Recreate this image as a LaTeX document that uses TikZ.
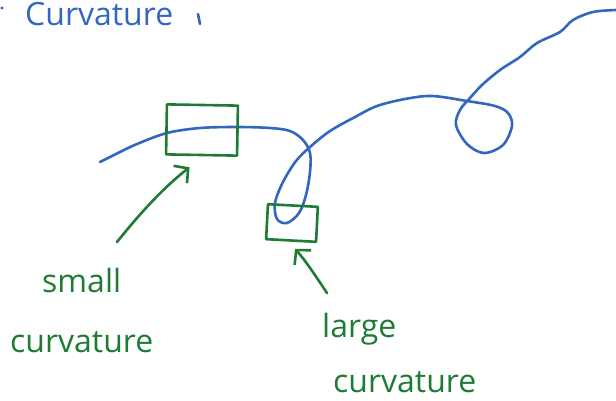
\documentclass[tikz,border=0pt]{standalone}
\usepackage{fontspec}
\setmainfont{Open Sans}
\usetikzlibrary{arrows.meta}
\definecolor{ink}{HTML}{3366C0}
\definecolor{pen}{HTML}{1E7B34}
\begin{document}
\begin{tikzpicture}[x=1pt,y=-1pt,
  stroke/.style={line width=2.6pt,line cap=round,line join=round},
  curve/.style={stroke,draw=ink},
  box/.style={stroke,draw=pen,rectangle,inner sep=0pt},
  pointer/.style={stroke,draw=pen,-{Straight Barb[length=10pt,width=22pt,line width=2.6pt]}},
  lbl/.style={text=pen,inner sep=0pt,anchor=base west,font=\fontsize{32}{36}\selectfont},
  title/.style={text=ink,inner sep=0pt,anchor=base west,font=\fontsize{32}{36}\selectfont}]
\useasboundingbox (0,0) rectangle (616,400);

% heading
\fill[ink] (2,8) circle (1.6);
\node[title] (head) at (25,25) {Curvature};
\draw[curve] (198,14) -- (200,24);

% the space curve with its two loops
\draw[curve] plot[smooth,tension=0.55] coordinates {
  (100,162) (118,153) (137,144) (167,133) (200,128) (237,127) (270,128)
  (290,131) (303,140) (310,153) (310,172) (306,195) (299,213) (287,223)
  (277,219) (275,203) (283,182) (296,161) (310,147) (330,131) (355,117)
  (377,106) (405,99) (432,96) (467,101) (495,106) (508,113) (512,126)
  (503,145) (484,153) (467,144) (456,125) (460,110) (470,98) (482,85)
  (500,70) (520,57) (537,43) (560,32) (573,20) (593,12) (616,10)};

% windows on the curve
\node[box,minimum width=71pt,minimum height=50pt,rotate=-1] (wide) at (202,130) {};
\node[box,minimum width=50pt,minimum height=35pt,rotate=-3] (tight) at (292,223) {};

% labels
\node[lbl] (small) at (42,292) {small};
\node[lbl] (smallc) at (10,352) {curvature};
\node[lbl] (large) at (322,337) {large};
\node[lbl] (largec) at (333,392) {curvature};

% pointers from labels to windows
\coordinate (t1) at (117,242);
\coordinate (t2) at (327,293);
\draw[pointer] (t1) .. controls (145,207) and (168,184) .. ([shift={(-12,11)}]wide.south);
\draw[pointer] (t2) .. controls (315,275) and (305,260) .. ([shift={(4,7)}]tight.south);
\end{tikzpicture}
\end{document}
